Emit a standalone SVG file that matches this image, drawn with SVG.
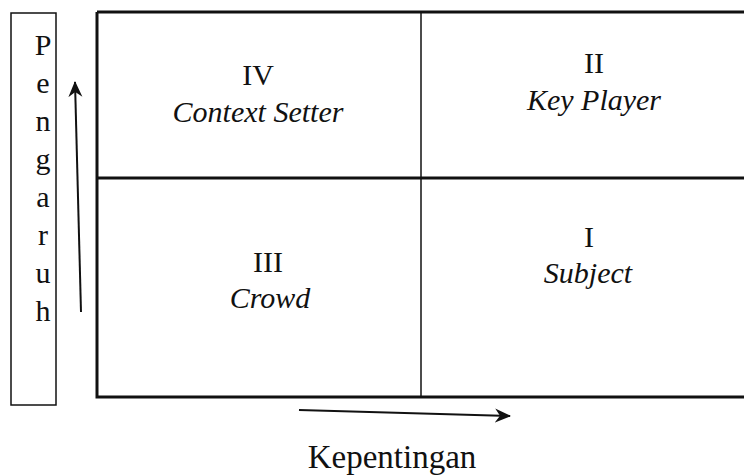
<svg xmlns="http://www.w3.org/2000/svg" width="744" height="476" viewBox="0 0 744 476">
<style>
  .t{font-family:"Liberation Serif","Times New Roman",serif;font-size:30px;fill:#111;text-anchor:middle}
  .i{font-style:italic}
  .ln{stroke:#111;fill:none}
</style>
<defs>
  <marker id="ah" viewBox="0 0 16 16" refX="15" refY="8" markerWidth="16" markerHeight="16" markerUnits="userSpaceOnUse" orient="auto">
    <path d="M0,1 L16,8 L0,15 L5,8 z" fill="#111"/>
  </marker>
</defs>
<rect width="744" height="476" fill="#fff"/>
<g id="label-pengaruh">
  <rect x="11" y="13" width="45" height="392" class="ln" stroke-width="1.5"/>
  <text class="t" x="43" y="55">P</text>
  <text class="t" x="43" y="93">e</text>
  <text class="t" x="43" y="131">n</text>
  <text class="t" x="43" y="169">g</text>
  <text class="t" x="43" y="207">a</text>
  <text class="t" x="43" y="245">r</text>
  <text class="t" x="43" y="283">u</text>
  <text class="t" x="43" y="321">h</text>
</g>
<g id="grid">
  <path class="ln" stroke-width="3" d="M97,12 H744 M97,12 V397 H744 M97,178 H744"/>
  <path class="ln" stroke-width="1.5" d="M421,12 V397"/>
</g>
<g id="q4"><text class="t" x="258" y="85">IV</text><text class="t i" x="258" y="122">Context Setter</text></g>
<g id="q2"><text class="t" x="594" y="73">II</text><text class="t i" x="594" y="110">Key Player</text></g>
<g id="q3"><text class="t" x="268" y="272">III</text><text class="t i" x="270" y="308">Crowd</text></g>
<g id="q1"><text class="t" x="589" y="247">I</text><text class="t i" x="588" y="283">Subject</text></g>
<g id="connectors">
  <path class="ln" stroke-width="2" d="M81,312 L75,82" marker-end="url(#ah)"/>
  <path class="ln" stroke-width="2" d="M299,410 L510,416" marker-end="url(#ah)"/>
</g>
<g id="label-kepentingan"><text class="t" x="392" y="468" style="font-size:33px">Kepentingan</text></g>
</svg>
